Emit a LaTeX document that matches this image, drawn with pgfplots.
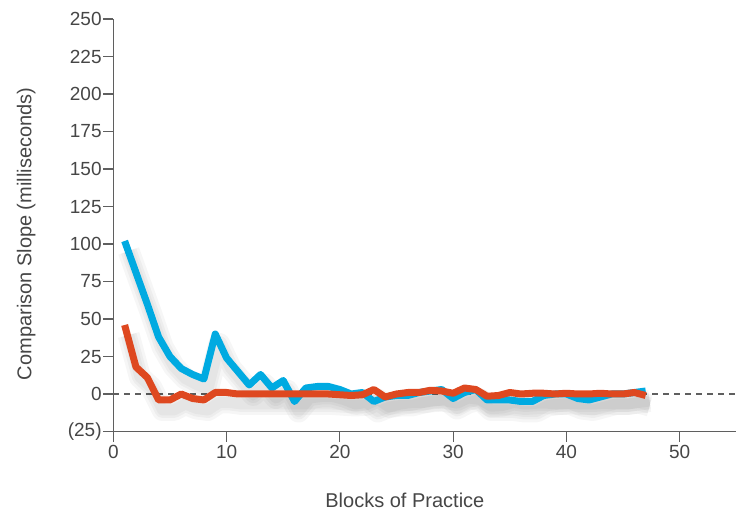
\documentclass[border=0pt]{standalone}
\usepackage{pgfplots}
\pgfplotsset{compat=1.18}
\usepackage{fontspec}
\setmainfont{Liberation Sans}
\definecolor{txt}{RGB}{70,70,70}
\definecolor{axc}{RGB}{95,95,95}
\definecolor{cblue}{RGB}{0,170,225}
\definecolor{cred}{RGB}{222,72,32}
\begin{document}
\begin{tikzpicture}
\useasboundingbox (0,0) rectangle (738bp,512bp);
\begin{axis}[
  at={(113.3bp,80.5bp)}, anchor=south west,
  scale only axis, width=623bp, height=412.5bp,
  xmin=0, xmax=55, ymin=-25, ymax=250,
  axis x line=bottom, axis y line=left,
  axis line style={-, axc, line width=1.2bp},
  tick align=outside, major tick length=10bp,
  tick style={axc, line width=1.2bp},
  xtick={0,10,20,30,40,50},
  ytick={-25,0,25,50,75,100,125,150,175,200,225,250},
  yticklabels={(25),0,25,50,75,100,125,150,175,200,225,250},
  /pgf/number format/assume math mode=true,
  ticklabel style={font=\fontsize{19bp}{22bp}\selectfont, text=txt},
  yticklabel style={inner xsep=1.5bp},
  xticklabel style={inner ysep=4bp},
  xlabel={Blocks of Practice},
  ylabel={Comparison Slope (milliseconds)},
  label style={font=\fontsize{20bp}{24bp}\selectfont, text=txt},
  xlabel style={at={(axis description cs:0.468,-0.166)}, anchor=center},
  ylabel style={at={(axis description cs:-0.140,0.479)}, anchor=center},
  clip=false,
]
\addplot[axc, line width=1.1bp, dash pattern=on 6bp off 5bp] coordinates {(0,0) (55,0)};
% soft shadows
\pgfplotsinvokeforeach{22,16,11}{
\addplot[black, opacity=0.035, line width=#1bp, line join=round, xshift=4bp, yshift=-10bp] coordinates {
(1,102) (2,81) (3,60) (4,38) (5,25) (6,17) (7,13) (8,10) (9,40) (10,24)
(11,15) (12,6) (13,13) (14,4) (15,9) (16,-5) (17,4) (18,5) (19,5) (20,3)
(21,0) (22,1) (23,-5) (24,-2) (25,-1) (26,-1) (27,1) (28,2) (29,3) (30,-3)
(31,1) (32,3) (33,-4) (34,-4) (35,-4) (36,-5) (37,-5) (38,-1) (39,0) (40,0)
(41,-3) (42,-4) (43,-2) (44,0) (45,0) (46,1) (47,2)};
\addplot[black, opacity=0.035, line width=#1bp, line join=round, xshift=4bp, yshift=-10bp] coordinates {
(1,46) (2,18) (3,11) (4,-4) (5,-4) (6,0) (7,-3) (8,-4) (9,1) (10,1)
(11,0) (12,0) (13,0) (14,0) (15,0) (16,0) (17,0) (18,0) (19,0) (20,-0.5)
(21,-1) (22,-0.5) (23,3) (24,-2) (25,0) (26,1) (27,1) (28,2.5) (29,2) (30,0.5)
(31,4) (32,3) (33,-1.5) (34,-1) (35,1) (36,0) (37,0.5) (38,0.5) (39,0) (40,0.5)
(41,0) (42,0) (43,0.5) (44,0) (45,0) (46,1) (47,-1)};
}
% blue series
\addplot[cblue, line width=7bp, line join=round] coordinates {
(1,102) (2,81) (3,60) (4,38) (5,25) (6,17) (7,13) (8,10) (9,40) (10,24)
(11,15) (12,6) (13,13) (14,4) (15,9) (16,-5) (17,4) (18,5) (19,5) (20,3)
(21,0) (22,1) (23,-5) (24,-2) (25,-1) (26,-1) (27,1) (28,2) (29,3) (30,-3)
(31,1) (32,3) (33,-4) (34,-4) (35,-4) (36,-5) (37,-5) (38,-1) (39,0) (40,0)
(41,-3) (42,-4) (43,-2) (44,0) (45,0) (46,1) (47,2)};
% red series
\addplot[cred, line width=7bp, line join=round] coordinates {
(1,46) (2,18) (3,11) (4,-4) (5,-4) (6,0) (7,-3) (8,-4) (9,1) (10,1)
(11,0) (12,0) (13,0) (14,0) (15,0) (16,0) (17,0) (18,0) (19,0) (20,-0.5)
(21,-1) (22,-0.5) (23,3) (24,-2) (25,0) (26,1) (27,1) (28,2.5) (29,2) (30,0.5)
(31,4) (32,3) (33,-1.5) (34,-1) (35,1) (36,0) (37,0.5) (38,0.5) (39,0) (40,0.5)
(41,0) (42,0) (43,0.5) (44,0) (45,0) (46,1) (47,-1)};
\end{axis}
\end{tikzpicture}
\end{document}
